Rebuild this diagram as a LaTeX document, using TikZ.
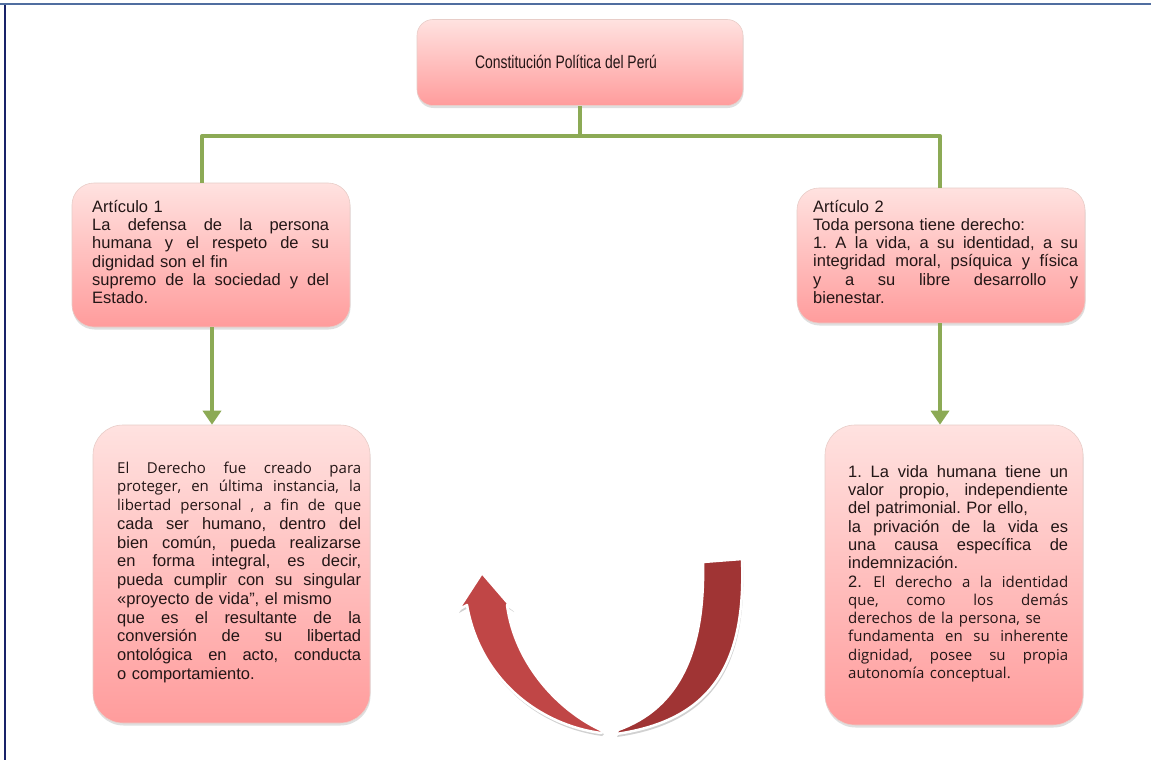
\documentclass[tikz,border=0pt]{standalone}
\usepackage{fontspec}
\setmainfont{Liberation Sans}
\newfontfamily\openf{Open Sans}
\usetikzlibrary{shadows,arrows.meta}
\setlength\parindent{0pt}
\frenchspacing
\definecolor{conngreen}{RGB}{140,170,85}
\definecolor{txt}{RGB}{35,22,22}
\definecolor{pinktop}{RGB}{255,226,224}
\definecolor{pinkbot}{RGB}{255,156,156}
\definecolor{boxline}{RGB}{232,205,200}
\definecolor{redA}{RGB}{192,70,70}
\definecolor{redB}{RGB}{160,52,52}
\definecolor{frametop}{RGB}{80,110,160}
\definecolor{frameleft}{RGB}{25,35,105}
\newcommand{\ol}[1]{{\openf\fontsize{15}{18}\selectfont #1}}
\newcommand{\jl}[2]{\makebox[#1][s]{\spaceskip=0pt\xspaceskip=0pt #2}}
\begin{document}
\begin{tikzpicture}[x=1pt,y=-1pt,
  pinkbox/.style={draw=boxline, line width=0.6pt, top color=pinktop, bottom color=pinkbot, inner sep=0pt,
    drop shadow={shadow xshift=0.5pt, shadow yshift=-2.5pt, opacity=0.25, fill=black!50}},
  txtblock/.style={anchor=north west, inner sep=0pt, align=left, text=txt},
  conn/.style={draw=conngreen, line width=4pt},
  arr/.style={draw=conngreen, line width=4.5pt, -{Triangle[width=18pt,length=14pt]}},
  redarm/.style={draw=white, line width=2.5pt, line join=round},
]
\useasboundingbox (0,0) rectangle (1151,760);
\fill[white] (0,0) rectangle (1151,760);
% frame
\draw[frameleft, line width=1.5pt] (5,4) -- (5,760);
\draw[frametop, line width=2.5pt] (0,4) -- (1151,4);

% boxes
\node[pinkbox, minimum width=326pt, minimum height=86pt, rounded corners=16pt] (top) at (580,62.5) {};
\node[text=txt, font=\fontsize{14.5}{17}\selectfont, inner sep=0pt] (title) at (566,62) {\scalebox{0.96}[1.25]{Constitución Política del Perú}};
\node[pinkbox, minimum width=278pt, minimum height=144pt, rounded corners=22pt] (art1) at (211,255) {};
\node[pinkbox, minimum width=288pt, minimum height=135pt, rounded corners=22pt] (art2) at (941,255.5) {};
\node[pinkbox, minimum width=277pt, minimum height=298pt, rounded corners=30pt] (bl) at (231.5,574) {};
\node[pinkbox, minimum width=258pt, minimum height=300pt, rounded corners=30pt] (br) at (954,575) {};

% texts
\node[txtblock, text width=237pt, font=\fontsize{16.5}{18.3}\selectfont] (t1) at (92,199) {%
\rule{0pt}{13pt}Artículo 1\\
\jl{237pt}{La defensa de la persona}\\
\jl{237pt}{humana y el respeto de su}\\
dignidad son el fin\\
\jl{237pt}{supremo de la sociedad y del}\\
Estado.};

\node[txtblock, text width=265pt, font=\fontsize{16.5}{18.2}\selectfont] (t2) at (813,199) {%
\rule{0pt}{13pt}Artículo 2\\
Toda persona tiene derecho:\\
\jl{265pt}{1. A la vida, a su identidad, a su}\\
\jl{265pt}{integridad moral, psíquica y física}\\
\jl{265pt}{y a su libre desarrollo y}\\
bienestar.};

\node[txtblock, text width=244pt, font=\fontsize{16.5}{18.75}\selectfont] (t3) at (117,460) {%
\rule{0pt}{13pt}\jl{244pt}{\ol{El Derecho fue creado para}}\\
\jl{244pt}{\ol{proteger, en última instancia, la}}\\
\jl{244pt}{\ol{libertad personal , a fin de que}}\\
\jl{244pt}{cada ser humano, dentro del}\\
\jl{244pt}{bien común, pueda realizarse}\\
\jl{244pt}{en forma integral, es decir,}\\
\jl{244pt}{pueda cumplir con su singular}\\
«proyecto de vida", el mismo\\
\jl{244pt}{que es el resultante de la}\\
\jl{244pt}{conversión de su libertad}\\
\jl{244pt}{ontológica en acto, conducta}\\
o comportamiento.};

\node[txtblock, text width=220pt, font=\fontsize{16.5}{18.3}\selectfont] (t4) at (848,464) {%
\rule{0pt}{13pt}\jl{220pt}{1. La vida humana tiene un}\\
\jl{220pt}{valor propio, independiente}\\
del patrimonial. Por ello,\\
\jl{220pt}{la privación de la vida es}\\
\jl{220pt}{una causa específica de}\\
indemnización.\\
\jl{220pt}{2. \ol{El derecho a la identidad}}\\
\jl{220pt}{\ol{que, como los demás}}\\
\ol{derechos de la persona, se}\\
\jl{220pt}{\ol{fundamenta en su inherente}}\\
\jl{220pt}{\ol{dignidad, posee su propia}}\\
\ol{autonomía conceptual.}};

% connectors
\coordinate (jl) at (202,136);
\coordinate (jr) at (940,136);
\draw[conn] (top.south) -- (top.south |- jl);
\draw[conn, line cap=round] (jl) -- (jr);
\draw[conn] (jl) -- (jl |- art1.north);
\draw[conn] (jr) -- (jr |- art2.north);
\draw[arr] (art1.south -| 212,0) -- (212,0 |- bl.north);
\draw[arr] (art2.south -| 940,0) -- (940,0 |- br.north);

% curved red arrow: shadow
\begin{scope}[shift={(1,3)}]
\fill[black!18] (482,573) -- (513,609) -- (507,605) .. controls (515,665) and (560,712) .. (603,731)
  -- (601,733) .. controls (540,725) and (480,680) .. (467,605) -- (458,610) -- cycle;
\fill[black!18] (742,559) -- (703,562) .. controls (705,650) and (680,708) .. (618,730)
  -- (616,734) .. controls (715,720) and (746,660) .. (742,559) -- cycle;
\end{scope}
\filldraw[redarm, fill=redA] (482,573) -- (513,609) -- (507,605) .. controls (515,665) and (560,712) .. (603,731)
  -- (601,733) .. controls (540,725) and (480,680) .. (467,605) -- (458,610) -- cycle;
\filldraw[redarm, fill=redB] (742,559) -- (703,562) .. controls (705,650) and (680,708) .. (618,730)
  -- (616,734) .. controls (715,720) and (746,660) .. (742,559) -- cycle;
\end{tikzpicture}
\end{document}
